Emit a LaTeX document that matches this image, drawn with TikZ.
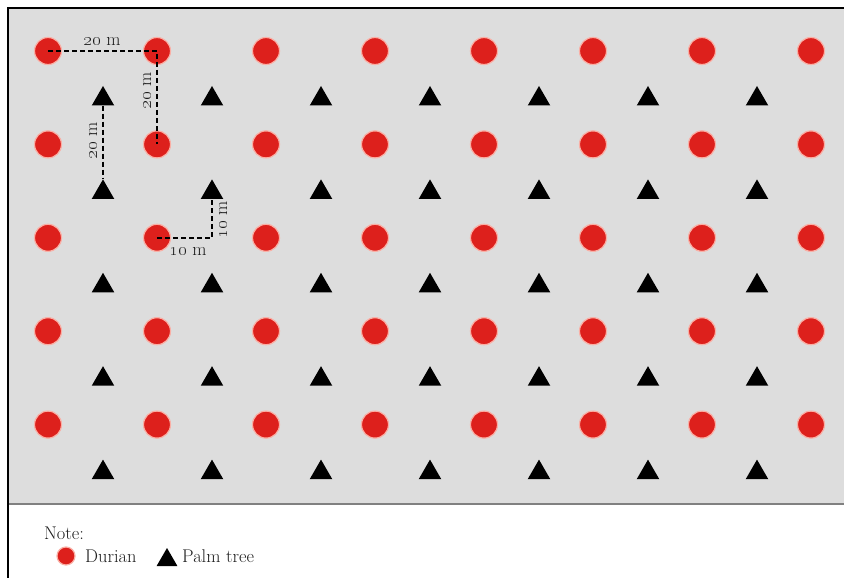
\RequirePackage{fix-cm}
\documentclass[tikz,border=0pt]{standalone}
\usetikzlibrary{shapes.geometric}
\definecolor{durian}{RGB}{221,32,28}
\definecolor{halo}{RGB}{250,175,165}
\definecolor{field}{RGB}{221,221,221}
\definecolor{sepline}{RGB}{128,128,128}
\definecolor{ink}{RGB}{30,30,30}
\begin{document}
\begin{tikzpicture}[x=1pt,y=-1pt,
  durianc/.style={circle,fill=durian,draw=halo,line width=1.2pt,minimum size=27pt,inner sep=0pt},
  palm/.style={regular polygon,regular polygon sides=3,fill=black,minimum size=26pt,inner sep=0pt},
  measure/.style={black,line width=2.6pt,dash pattern=on 5pt off 3pt},
  lbl/.style={font=\fontsize{18.4}{21}\selectfont,text=ink,inner sep=0pt}
]
\fill[white] (0,0) rectangle (844,578);
\useasboundingbox (0,0) rectangle (844,578);
% field
\fill[field] (9,8) rectangle (844,504);
\draw[sepline,line width=2pt] (9,504) -- (844,504);
\draw[black,line width=2.5pt] (8,578) -- (8,8) -- (844,8);
% durian trees
\foreach \i in {0,...,4}
  \foreach \j in {0,...,7}
    \node[durianc] (c\i\j) at ({48+109*\j},{51+93.4*\i}) {};
% palm trees
\foreach \i in {0,...,4}
  \foreach \j in {0,...,6}
    \node[palm] (t\i\j) at ({103+109*\j},{99+93.4*\i}) {};
% measurements
\draw[measure] (c00.center) -- (c01.center) -- (c11.center);
\draw[measure] (t00.south) -- (t10.north);
\draw[measure] (c21.center) -- (c21.center -| t11.south) -- (t11.south);
\node[lbl] (l1) at (102,41) {\oldstylenums{20} m};
\node[lbl,rotate=90] (l2) at (147,91) {\oldstylenums{20} m};
\node[lbl,rotate=90] (l3) at (93,141) {\oldstylenums{20} m};
\node[lbl] (l4) at (188,251) {\oldstylenums{10} m};
\node[lbl,rotate=90] (l5) at (223,220) {\oldstylenums{10} m};
% legend
\node[lbl,anchor=base west] (note) at (44,539) {Note:};
\node[durianc,minimum size=18pt] (ld) at (66,556) {};
\node[lbl,anchor=base west] (ldt) at (85,562) {Durian};
\node[palm,minimum size=24pt] (lp) at (167,560) {};
\node[lbl,anchor=base west] (lpt) at (182,562) {Palm tree};
\end{tikzpicture}
\end{document}
